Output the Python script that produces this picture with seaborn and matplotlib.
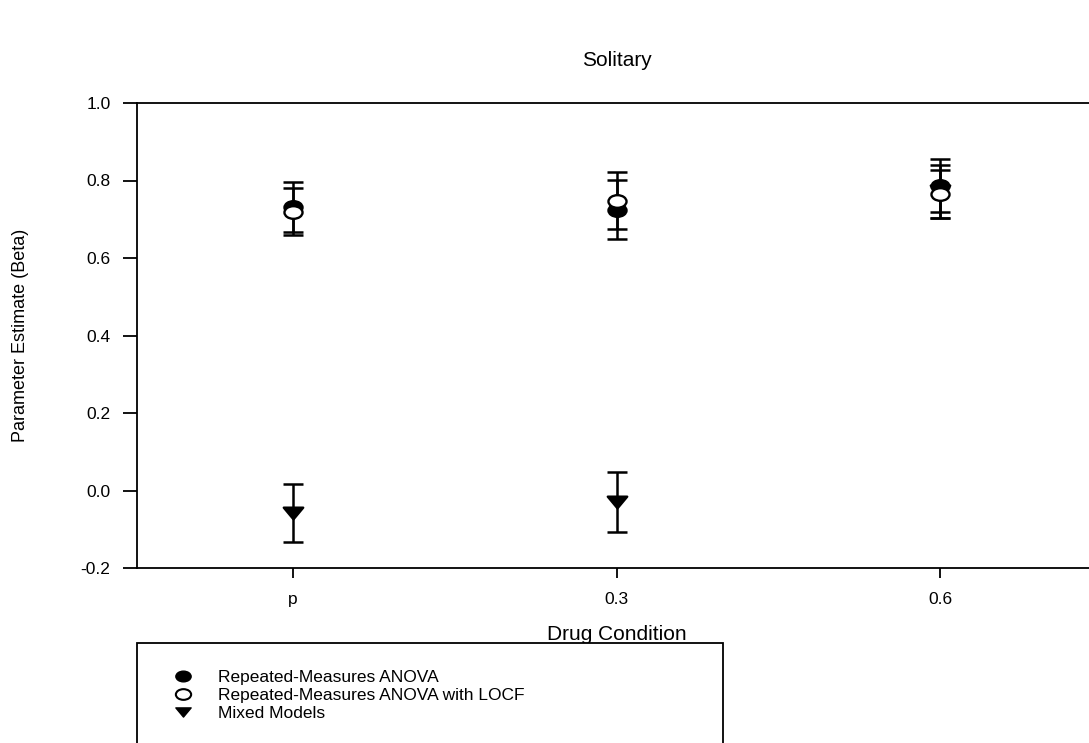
import matplotlib
matplotlib.use("Agg")
import matplotlib.pyplot as plt
from matplotlib.lines import Line2D
from matplotlib.path import Path
from matplotlib.transforms import Affine2D
import seaborn as sns
import pandas as pd

# ---- data ----
conditions = ["p", "0.3", "0.6"]
series_names = ["Repeated-Measures ANOVA",
                "Repeated-Measures ANOVA with LOCF",
                "Mixed Models"]
rm_anova = [0.731, 0.725, 0.787]
rm_anova_se = [0.065, 0.077, 0.068]
rm_locf = [0.720, 0.748, 0.765]
rm_locf_se = [0.060, 0.073, 0.062]
mixed = [-0.057, -0.030, 0.772]
mixed_se = [0.075, 0.077, 0.069]
y_ticks = [-0.2, 0.0, 0.2, 0.4, 0.6, 0.8, 1.0]
y_tick_labels = ["-0.2", "0.0", "0.2", "0.4", "0.6", "0.8", "1.0"]

sns.set_style("white")
plt.rcParams["font.family"] = ["Liberation Sans", "DejaVu Sans"]
plt.rcParams["text.color"] = "black"
plt.rcParams["axes.labelcolor"] = "black"

# wide (elliptical) marker shapes as in the reference
ellipse = Path.unit_circle().transformed(Affine2D().scale(1.0, 0.7))
wide_tri = Path([(-1.0, 0.6), (1.0, 0.6), (0.0, -0.6), (-1.0, 0.6)],
                [Path.MOVETO, Path.LINETO, Path.LINETO, Path.CLOSEPOLY])

W, H = 1089, 743
fig = plt.figure(figsize=(W / 100, H / 100), dpi=100)
ax_left, ax_right, ax_top, ax_bottom = 137, 1096, 103, 568
ax = fig.add_axes([ax_left / W, 1 - ax_bottom / H,
                   (ax_right - ax_left) / W, (ax_bottom - ax_top) / H])

rows = []
for name, vals, ses in [(series_names[0], rm_anova, rm_anova_se),
                        (series_names[1], rm_locf, rm_locf_se),
                        (series_names[2], mixed, mixed_se)]:
    for c, v, s in zip(conditions, vals, ses):
        rows.append({"series": name, "condition": c, "value": v, "se": s})
df = pd.DataFrame(rows)
df["xpos"] = df["condition"].map({c: i for i, c in enumerate(conditions)})

styles = {
    series_names[2]: dict(marker=wide_tri, fc="black", ms=14, z=3),
    series_names[0]: dict(marker=ellipse, fc="black", ms=13, z=4),
    series_names[1]: dict(marker=ellipse, fc="white", ms=13, z=5),
}

# error bars
for name in [series_names[2], series_names[0], series_names[1]]:
    sub = df[df["series"] == name]
    ax.errorbar(sub["xpos"], sub["value"], yerr=sub["se"], fmt="none",
                ecolor="black", elinewidth=1.8, capsize=7.5, capthick=1.8,
                zorder=2)

# markers through seaborn
for name in [series_names[2], series_names[0], series_names[1]]:
    st = styles[name]
    sub = df[df["series"] == name]
    sns.scatterplot(data=sub, x="xpos", y="value", ax=ax, marker=st["marker"],
                    s=st["ms"] ** 2, color=st["fc"], edgecolor="black",
                    linewidth=1.7, zorder=st["z"], legend=False)

ax.set_xlim(-0.48, 2.48)
ax.set_ylim(-0.2, 1.0)
ax.set_xticks(range(len(conditions)))
ax.set_xticklabels(conditions)
ax.set_yticks(y_ticks)
ax.set_yticklabels(y_tick_labels)

for side in ["left", "top", "bottom"]:
    ax.spines[side].set_visible(True)
    ax.spines[side].set_color("black")
    ax.spines[side].set_linewidth(1.3)
ax.spines["right"].set_visible(False)

ax.tick_params(axis="y", direction="out", length=10, width=1.3, pad=9,
               labelsize=12.5, colors="black", left=True)
ax.tick_params(axis="x", direction="out", length=7, width=1.3, pad=10,
               labelsize=12.5, colors="black", bottom=True)

ax.set_xlabel("Drug Condition", fontsize=15, labelpad=13, color="black")
ax.set_ylabel("Parameter Estimate (Beta)", fontsize=13, color="black")
ax.yaxis.set_label_coords(-0.113, 0.5)
ax.set_title("Solitary", fontsize=15, pad=27, color="black")

handles = [
    Line2D([], [], ls="none", marker=ellipse, mfc="black", mec="black", ms=11),
    Line2D([], [], ls="none", marker=ellipse, mfc="white", mec="black", ms=11, mew=1.5),
    Line2D([], [], ls="none", marker=wide_tri, mfc="black", mec="black", ms=11),
]
leg = fig.legend(handles, series_names, loc="upper left",
                 bbox_to_anchor=(137 / W, 1 - 650 / H, (723 - 137) / W, 0.01),
                 mode="expand", bbox_transform=fig.transFigure,
                 borderaxespad=0, fontsize=12.5, frameon=True, fancybox=False,
                 framealpha=1, borderpad=1.55, handlelength=2.2,
                 handletextpad=0.9, labelspacing=0.18)
leg.get_frame().set_edgecolor("black")
leg.get_frame().set_linewidth(1.3)
for t in leg.get_texts():
    t.set_color("black")

fig.savefig("out.png", dpi=100, facecolor="white")
